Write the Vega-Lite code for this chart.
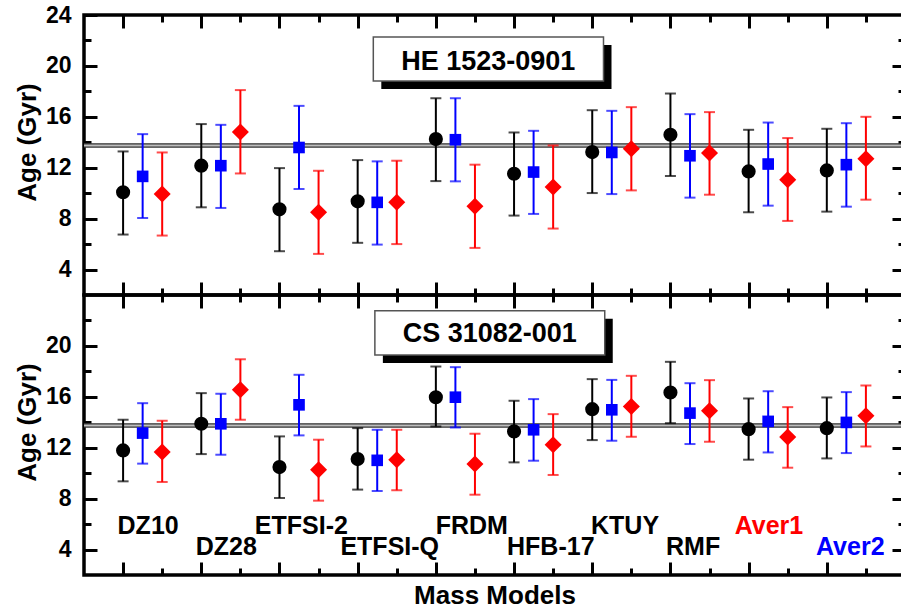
{
  "$schema": "https://vega.github.io/schema/vega-lite/v6.json",
  "padding": {"left": 12, "top": 2, "right": 0, "bottom": 0},
  "autosize": {"type": "pad"},
  "background": "white",
  "bounds": "flush",
  "spacing": 0,
  "config": {
    "view": {"stroke": "black", "strokeWidth": 3.5},
    "font": "Liberation Sans",
    "axis": {
      "domain": false, "grid": false, "tickColor": "black", "tickWidth": 3,
      "labelFont": "Liberation Sans", "labelFontWeight": "bold", "labelFontSize": 23, "labelColor": "black",
      "titleFont": "Liberation Sans", "titleFontWeight": "bold", "titleFontSize": 26, "titleColor": "black"
    }
  },
  "datasets": {
    "ages": [
      {"star": "HE 1523-0901", "model": "DZ10", "set": "S1", "pos": 1.0, "age": 10.07, "lo": 6.75, "hi": 13.28},
      {"star": "HE 1523-0901", "model": "DZ10", "set": "S2", "pos": 1.25, "age": 11.32, "lo": 8.05, "hi": 14.64},
      {"star": "HE 1523-0901", "model": "DZ10", "set": "S3", "pos": 1.5, "age": 9.93, "lo": 6.67, "hi": 13.2},
      {"star": "HE 1523-0901", "model": "DZ28", "set": "S1", "pos": 2.0, "age": 12.16, "lo": 8.89, "hi": 15.43},
      {"star": "HE 1523-0901", "model": "DZ28", "set": "S2", "pos": 2.25, "age": 12.16, "lo": 8.84, "hi": 15.37},
      {"star": "HE 1523-0901", "model": "DZ28", "set": "S3", "pos": 2.5, "age": 14.8, "lo": 11.55, "hi": 18.1},
      {"star": "HE 1523-0901", "model": "ETFSI-2", "set": "S1", "pos": 3.0, "age": 8.73, "lo": 5.44, "hi": 11.97},
      {"star": "HE 1523-0901", "model": "ETFSI-2", "set": "S2", "pos": 3.25, "age": 13.59, "lo": 10.33, "hi": 16.86},
      {"star": "HE 1523-0901", "model": "ETFSI-2", "set": "S3", "pos": 3.5, "age": 8.5, "lo": 5.23, "hi": 11.76},
      {"star": "HE 1523-0901", "model": "ETFSI-Q", "set": "S1", "pos": 4.0, "age": 9.36, "lo": 6.1, "hi": 12.6},
      {"star": "HE 1523-0901", "model": "ETFSI-Q", "set": "S2", "pos": 4.25, "age": 9.28, "lo": 5.96, "hi": 12.5},
      {"star": "HE 1523-0901", "model": "ETFSI-Q", "set": "S3", "pos": 4.5, "age": 9.28, "lo": 6.0, "hi": 12.55},
      {"star": "HE 1523-0901", "model": "FRDM", "set": "S1", "pos": 5.0, "age": 14.25, "lo": 10.95, "hi": 17.46},
      {"star": "HE 1523-0901", "model": "FRDM", "set": "S2", "pos": 5.25, "age": 14.2, "lo": 10.93, "hi": 17.46},
      {"star": "HE 1523-0901", "model": "FRDM", "set": "S3", "pos": 5.5, "age": 8.97, "lo": 5.7, "hi": 12.24},
      {"star": "HE 1523-0901", "model": "HFB-17", "set": "S1", "pos": 6.0, "age": 11.53, "lo": 8.24, "hi": 14.77},
      {"star": "HE 1523-0901", "model": "HFB-17", "set": "S2", "pos": 6.25, "age": 11.66, "lo": 8.37, "hi": 14.9},
      {"star": "HE 1523-0901", "model": "HFB-17", "set": "S3", "pos": 6.5, "age": 10.48, "lo": 7.22, "hi": 13.75},
      {"star": "HE 1523-0901", "model": "KTUY", "set": "S1", "pos": 7.0, "age": 13.23, "lo": 10.01, "hi": 16.52},
      {"star": "HE 1523-0901", "model": "KTUY", "set": "S2", "pos": 7.25, "age": 13.2, "lo": 9.93, "hi": 16.47},
      {"star": "HE 1523-0901", "model": "KTUY", "set": "S3", "pos": 7.5, "age": 13.49, "lo": 10.22, "hi": 16.76},
      {"star": "HE 1523-0901", "model": "RMF", "set": "S1", "pos": 8.0, "age": 14.59, "lo": 11.35, "hi": 17.83},
      {"star": "HE 1523-0901", "model": "RMF", "set": "S2", "pos": 8.25, "age": 12.94, "lo": 9.65, "hi": 16.21},
      {"star": "HE 1523-0901", "model": "RMF", "set": "S3", "pos": 8.5, "age": 13.15, "lo": 9.88, "hi": 16.37},
      {"star": "HE 1523-0901", "model": "Aver1", "set": "S1", "pos": 9.0, "age": 11.71, "lo": 8.5, "hi": 14.98},
      {"star": "HE 1523-0901", "model": "Aver1", "set": "S2", "pos": 9.25, "age": 12.29, "lo": 9.02, "hi": 15.55},
      {"star": "HE 1523-0901", "model": "Aver1", "set": "S3", "pos": 9.5, "age": 11.06, "lo": 7.82, "hi": 14.33},
      {"star": "HE 1523-0901", "model": "Aver2", "set": "S1", "pos": 10.0, "age": 11.79, "lo": 8.55, "hi": 15.06},
      {"star": "HE 1523-0901", "model": "Aver2", "set": "S2", "pos": 10.25, "age": 12.24, "lo": 8.94, "hi": 15.5},
      {"star": "HE 1523-0901", "model": "Aver2", "set": "S3", "pos": 10.5, "age": 12.71, "lo": 9.49, "hi": 16.0},
      {"star": "CS 31082-001", "model": "DZ10", "set": "S1", "pos": 1.0, "age": 11.79, "lo": 9.36, "hi": 14.2},
      {"star": "CS 31082-001", "model": "DZ10", "set": "S2", "pos": 1.25, "age": 13.15, "lo": 10.75, "hi": 15.5},
      {"star": "CS 31082-001", "model": "DZ10", "set": "S3", "pos": 1.5, "age": 11.66, "lo": 9.31, "hi": 14.12},
      {"star": "CS 31082-001", "model": "DZ28", "set": "S1", "pos": 2.0, "age": 13.88, "lo": 11.5, "hi": 16.29},
      {"star": "CS 31082-001", "model": "DZ28", "set": "S2", "pos": 2.25, "age": 13.88, "lo": 11.45, "hi": 16.24},
      {"star": "CS 31082-001", "model": "DZ28", "set": "S3", "pos": 2.5, "age": 16.55, "lo": 14.2, "hi": 18.95},
      {"star": "CS 31082-001", "model": "ETFSI-2", "set": "S1", "pos": 3.0, "age": 10.48, "lo": 8.05, "hi": 12.89},
      {"star": "CS 31082-001", "model": "ETFSI-2", "set": "S2", "pos": 3.25, "age": 15.37, "lo": 12.97, "hi": 17.73},
      {"star": "CS 31082-001", "model": "ETFSI-2", "set": "S3", "pos": 3.5, "age": 10.27, "lo": 7.84, "hi": 12.63},
      {"star": "CS 31082-001", "model": "ETFSI-Q", "set": "S1", "pos": 4.0, "age": 11.11, "lo": 8.71, "hi": 13.54},
      {"star": "CS 31082-001", "model": "ETFSI-Q", "set": "S2", "pos": 4.25, "age": 11.01, "lo": 8.6, "hi": 13.41},
      {"star": "CS 31082-001", "model": "ETFSI-Q", "set": "S3", "pos": 4.5, "age": 11.05, "lo": 8.66, "hi": 13.41},
      {"star": "CS 31082-001", "model": "FRDM", "set": "S1", "pos": 5.0, "age": 15.97, "lo": 13.67, "hi": 18.38},
      {"star": "CS 31082-001", "model": "FRDM", "set": "S2", "pos": 5.25, "age": 15.97, "lo": 13.59, "hi": 18.33},
      {"star": "CS 31082-001", "model": "FRDM", "set": "S3", "pos": 5.5, "age": 10.72, "lo": 8.31, "hi": 13.1},
      {"star": "CS 31082-001", "model": "HFB-17", "set": "S1", "pos": 6.0, "age": 13.28, "lo": 10.85, "hi": 15.69},
      {"star": "CS 31082-001", "model": "HFB-17", "set": "S2", "pos": 6.25, "age": 13.41, "lo": 10.98, "hi": 15.82},
      {"star": "CS 31082-001", "model": "HFB-17", "set": "S3", "pos": 6.5, "age": 12.24, "lo": 9.86, "hi": 14.64},
      {"star": "CS 31082-001", "model": "KTUY", "set": "S1", "pos": 7.0, "age": 15.03, "lo": 12.6, "hi": 17.39},
      {"star": "CS 31082-001", "model": "KTUY", "set": "S2", "pos": 7.25, "age": 14.98, "lo": 12.55, "hi": 17.33},
      {"star": "CS 31082-001", "model": "KTUY", "set": "S3", "pos": 7.5, "age": 15.24, "lo": 12.86, "hi": 17.65},
      {"star": "CS 31082-001", "model": "RMF", "set": "S1", "pos": 8.0, "age": 16.34, "lo": 13.93, "hi": 18.75},
      {"star": "CS 31082-001", "model": "RMF", "set": "S2", "pos": 8.25, "age": 14.72, "lo": 12.29, "hi": 17.07},
      {"star": "CS 31082-001", "model": "RMF", "set": "S3", "pos": 8.5, "age": 14.9, "lo": 12.47, "hi": 17.31},
      {"star": "CS 31082-001", "model": "Aver1", "set": "S1", "pos": 9.0, "age": 13.46, "lo": 11.06, "hi": 15.87},
      {"star": "CS 31082-001", "model": "Aver1", "set": "S2", "pos": 9.25, "age": 14.07, "lo": 11.63, "hi": 16.44},
      {"star": "CS 31082-001", "model": "Aver1", "set": "S3", "pos": 9.5, "age": 12.84, "lo": 10.43, "hi": 15.19},
      {"star": "CS 31082-001", "model": "Aver2", "set": "S1", "pos": 10.0, "age": 13.54, "lo": 11.16, "hi": 15.95},
      {"star": "CS 31082-001", "model": "Aver2", "set": "S2", "pos": 10.25, "age": 13.99, "lo": 11.58, "hi": 16.37},
      {"star": "CS 31082-001", "model": "Aver2", "set": "S3", "pos": 10.5, "age": 14.51, "lo": 12.1, "hi": 16.89}
    ],
    "band": [{"lo": 13.62, "hi": 13.88}],
    "boxes": [
      {"star": "HE 1523-0901", "x1": 4.2, "x2": 7.144, "y1": 22.27, "y2": 18.82, "tx": 5.67, "ty": 19.7},
      {"star": "CS 31082-001", "x1": 4.22, "x2": 7.16, "y1": 22.77, "y2": 19.29, "tx": 5.69, "ty": 20.3}
    ],
    "labels": [
      {"model": "DZ10", "lx": 1.32, "ly": 5.25},
      {"model": "DZ28", "lx": 2.32, "ly": 3.6},
      {"model": "ETFSI-2", "lx": 3.28, "ly": 5.25},
      {"model": "ETFSI-Q", "lx": 4.41, "ly": 3.6},
      {"model": "FRDM", "lx": 5.46, "ly": 5.25},
      {"model": "HFB-17", "lx": 6.47, "ly": 3.6},
      {"model": "KTUY", "lx": 7.42, "ly": 5.25},
      {"model": "RMF", "lx": 8.29, "ly": 3.6},
      {"model": "Aver1", "lx": 9.26, "ly": 5.25},
      {"model": "Aver2", "lx": 10.3, "ly": 3.6}
    ]
  },
  "vconcat": [
    {
      "width": 821, "height": 280,
      "layer": [
        {"data": {"name": "band"}, "mark": {"type": "rect", "color": "#bdbdbd"},
         "encoding": {"y": {"field": "lo", "type": "quantitative", "scale": {"domain": [2, 24], "nice": false, "zero": false}, "axis": null}, "y2": {"field": "hi"}}},
        {"data": {"name": "band"}, "mark": {"type": "rule", "color": "#333333", "strokeWidth": 1.3},
         "encoding": {"y": {"field": "lo", "type": "quantitative", "scale": {"domain": [2, 24], "nice": false, "zero": false}, "axis": null}}},
        {"data": {"name": "band"}, "mark": {"type": "rule", "color": "#333333", "strokeWidth": 1.3},
         "encoding": {"y": {"field": "hi", "type": "quantitative", "scale": {"domain": [2, 24], "nice": false, "zero": false}, "axis": null}}},
        {"data": {"name": "boxes"}, "transform": [{"filter": "datum.star === 'HE 1523-0901'"}],
         "mark": {"type": "rect", "color": "black", "xOffset": 8, "x2Offset": 8, "yOffset": 8, "y2Offset": 8},
         "encoding": {
           "x": {"field": "x1", "type": "quantitative", "scale": {"domain": [0.5, 11], "nice": false, "zero": false}, "axis": null}, "x2": {"field": "x2"},
           "y": {"field": "y1", "type": "quantitative", "scale": {"domain": [2, 24], "nice": false, "zero": false}, "axis": null}, "y2": {"field": "y2"}}},
        {"data": {"name": "boxes"}, "transform": [{"filter": "datum.star === 'HE 1523-0901'"}],
         "mark": {"type": "rect", "fill": "white", "stroke": "#555555", "strokeWidth": 1.5},
         "encoding": {
           "x": {"field": "x1", "type": "quantitative", "scale": {"domain": [0.5, 11], "nice": false, "zero": false},
                 "axis": {"orient": "top", "values": [1,1.5,2,2.5,3,3.5,4,4.5,5,5.5,6,6.5,7,7.5,8,8.5,9,9.5,10,10.5], "labels": false, "title": null,
                          "tickSize": {"condition": {"test": "datum.value % 1 === 0", "value": -13}, "value": -7}}},
           "x2": {"field": "x2"},
           "y": {"field": "y1", "type": "quantitative", "scale": {"domain": [2, 24], "nice": false, "zero": false},
                 "axis": {"orient": "right", "values": [4,6,8,10,12,14,16,18,20,22], "labels": false, "title": null,
                          "tickSize": {"condition": {"test": "datum.value % 4 === 0", "value": -13}, "value": -7}}},
           "y2": {"field": "y2"}}},
        {"data": {"name": "boxes"}, "transform": [{"filter": "datum.star === 'HE 1523-0901'"}],
         "mark": {"type": "text", "font": "Liberation Sans", "fontWeight": "bold", "fontSize": 27, "color": "black", "align": "center", "baseline": "alphabetic"},
         "encoding": {
           "x": {"field": "tx", "type": "quantitative", "scale": {"domain": [0.5, 11], "nice": false, "zero": false}, "axis": null},
           "y": {"field": "ty", "type": "quantitative", "scale": {"domain": [2, 24], "nice": false, "zero": false}, "axis": null},
           "text": {"field": "star"}}},
        {"data": {"name": "ages"}, "transform": [{"filter": "datum.star === 'HE 1523-0901'"}],
         "mark": {"type": "errorbar", "thickness": 2, "ticks": {"size": 11, "thickness": 2}},
         "encoding": {
           "x": {"field": "pos", "type": "quantitative", "scale": {"domain": [0.5, 11], "nice": false, "zero": false}, "axis": null},
           "y": {"field": "lo", "type": "quantitative", "scale": {"domain": [2, 24], "nice": false, "zero": false}, "axis": null},
           "y2": {"field": "hi"},
           "color": {"field": "set", "type": "nominal", "scale": {"domain": ["S1", "S2", "S3"], "range": ["#000000", "#0000ff", "#ff0000"]}, "legend": null}}},
        {"data": {"name": "ages"}, "transform": [{"filter": "datum.star === 'HE 1523-0901' && datum.set === 'S1'"}],
         "mark": {"type": "point", "shape": "circle", "filled": true, "opacity": 1, "size": 200, "color": "#000000"},
         "encoding": {
           "x": {"field": "pos", "type": "quantitative", "scale": {"domain": [0.5, 11], "nice": false, "zero": false},
                 "axis": {"orient": "bottom", "values": [1,1.5,2,2.5,3,3.5,4,4.5,5,5.5,6,6.5,7,7.5,8,8.5,9,9.5,10,10.5], "labels": false, "title": null,
                          "tickSize": {"condition": {"test": "datum.value % 1 === 0", "value": -13}, "value": -7}}},
           "y": {"field": "age", "type": "quantitative", "scale": {"domain": [2, 24], "nice": false, "zero": false},
                 "axis": {"orient": "left", "values": [4,6,8,10,12,14,16,18,20,22,24], "title": "Age (Gyr)", "titleY": 127, "titlePadding": 5,
                          "labelPadding": 26, "labelExpr": "datum.value % 4 === 0 ? datum.label : ''",
                          "tickSize": {"condition": {"test": "datum.value % 4 === 0", "value": -13}, "value": -7}}}}},
        {"data": {"name": "ages"}, "transform": [{"filter": "datum.star === 'HE 1523-0901' && datum.set === 'S2'"}],
         "mark": {"type": "point", "shape": "square", "filled": true, "opacity": 1, "size": 135, "color": "#0000ff"},
         "encoding": {
           "x": {"field": "pos", "type": "quantitative", "scale": {"domain": [0.5, 11], "nice": false, "zero": false}, "axis": null},
           "y": {"field": "age", "type": "quantitative", "scale": {"domain": [2, 24], "nice": false, "zero": false}, "axis": null}}},
        {"data": {"name": "ages"}, "transform": [{"filter": "datum.star === 'HE 1523-0901' && datum.set === 'S3'"}],
         "mark": {"type": "point", "shape": "diamond", "filled": true, "opacity": 1, "size": 290, "color": "#ff0000"},
         "encoding": {
           "x": {"field": "pos", "type": "quantitative", "scale": {"domain": [0.5, 11], "nice": false, "zero": false}, "axis": null},
           "y": {"field": "age", "type": "quantitative", "scale": {"domain": [2, 24], "nice": false, "zero": false}, "axis": null}}}
      ],
      "resolve": {"axis": {"x": "independent", "y": "independent"}}
    },
    {
      "width": 821, "height": 280,
      "layer": [
        {"data": {"name": "band"}, "mark": {"type": "rect", "color": "#bdbdbd"},
         "encoding": {"y": {"field": "lo", "type": "quantitative", "scale": {"domain": [2, 24], "nice": false, "zero": false}, "axis": null}, "y2": {"field": "hi"}}},
        {"data": {"name": "band"}, "mark": {"type": "rule", "color": "#333333", "strokeWidth": 1.3},
         "encoding": {"y": {"field": "lo", "type": "quantitative", "scale": {"domain": [2, 24], "nice": false, "zero": false}, "axis": null}}},
        {"data": {"name": "band"}, "mark": {"type": "rule", "color": "#333333", "strokeWidth": 1.3},
         "encoding": {"y": {"field": "hi", "type": "quantitative", "scale": {"domain": [2, 24], "nice": false, "zero": false}, "axis": null}}},
        {"data": {"name": "boxes"}, "transform": [{"filter": "datum.star === 'CS 31082-001'"}],
         "mark": {"type": "rect", "color": "black", "xOffset": 8, "x2Offset": 8, "yOffset": 8, "y2Offset": 8},
         "encoding": {
           "x": {"field": "x1", "type": "quantitative", "scale": {"domain": [0.5, 11], "nice": false, "zero": false}, "axis": null}, "x2": {"field": "x2"},
           "y": {"field": "y1", "type": "quantitative", "scale": {"domain": [2, 24], "nice": false, "zero": false}, "axis": null}, "y2": {"field": "y2"}}},
        {"data": {"name": "boxes"}, "transform": [{"filter": "datum.star === 'CS 31082-001'"}],
         "mark": {"type": "rect", "fill": "white", "stroke": "#555555", "strokeWidth": 1.5},
         "encoding": {
           "x": {"field": "x1", "type": "quantitative", "scale": {"domain": [0.5, 11], "nice": false, "zero": false},
                 "axis": {"orient": "top", "values": [1,1.5,2,2.5,3,3.5,4,4.5,5,5.5,6,6.5,7,7.5,8,8.5,9,9.5,10,10.5], "labels": false, "title": null,
                          "tickSize": {"condition": {"test": "datum.value % 1 === 0", "value": -13}, "value": -7}}},
           "x2": {"field": "x2"},
           "y": {"field": "y1", "type": "quantitative", "scale": {"domain": [2, 24], "nice": false, "zero": false},
                 "axis": {"orient": "right", "values": [4,6,8,10,12,14,16,18,20,22], "labels": false, "title": null,
                          "tickSize": {"condition": {"test": "datum.value % 4 === 0", "value": -13}, "value": -7}}},
           "y2": {"field": "y2"}}},
        {"data": {"name": "boxes"}, "transform": [{"filter": "datum.star === 'CS 31082-001'"}],
         "mark": {"type": "text", "font": "Liberation Sans", "fontWeight": "bold", "fontSize": 27, "color": "black", "align": "center", "baseline": "alphabetic"},
         "encoding": {
           "x": {"field": "tx", "type": "quantitative", "scale": {"domain": [0.5, 11], "nice": false, "zero": false}, "axis": null},
           "y": {"field": "ty", "type": "quantitative", "scale": {"domain": [2, 24], "nice": false, "zero": false}, "axis": null},
           "text": {"field": "star"}}},
        {"data": {"name": "labels"},
         "mark": {"type": "text", "font": "Liberation Sans", "fontWeight": "bold", "fontSize": 25, "align": "center", "baseline": "alphabetic"},
         "encoding": {
           "x": {"field": "lx", "type": "quantitative", "scale": {"domain": [0.5, 11], "nice": false, "zero": false}, "axis": null},
           "y": {"field": "ly", "type": "quantitative", "scale": {"domain": [2, 24], "nice": false, "zero": false}, "axis": null},
           "text": {"field": "model"},
           "color": {"condition": [{"test": "datum.model === 'Aver1'", "value": "#ff0000"}, {"test": "datum.model === 'Aver2'", "value": "#0000ff"}], "value": "#000000"}}},
        {"data": {"name": "ages"}, "transform": [{"filter": "datum.star === 'CS 31082-001'"}],
         "mark": {"type": "errorbar", "thickness": 2, "ticks": {"size": 11, "thickness": 2}},
         "encoding": {
           "x": {"field": "pos", "type": "quantitative", "scale": {"domain": [0.5, 11], "nice": false, "zero": false}, "axis": null},
           "y": {"field": "lo", "type": "quantitative", "scale": {"domain": [2, 24], "nice": false, "zero": false}, "axis": null},
           "y2": {"field": "hi"},
           "color": {"field": "set", "type": "nominal", "scale": {"domain": ["S1", "S2", "S3"], "range": ["#000000", "#0000ff", "#ff0000"]}, "legend": null}}},
        {"data": {"name": "ages"}, "transform": [{"filter": "datum.star === 'CS 31082-001' && datum.set === 'S1'"}],
         "mark": {"type": "point", "shape": "circle", "filled": true, "opacity": 1, "size": 200, "color": "#000000"},
         "encoding": {
           "x": {"field": "pos", "type": "quantitative", "scale": {"domain": [0.5, 11], "nice": false, "zero": false},
                 "axis": {"orient": "bottom", "values": [1,1.5,2,2.5,3,3.5,4,4.5,5,5.5,6,6.5,7,7.5,8,8.5,9,9.5,10,10.5], "labels": false, "title": "Mass Models", "titlePadding": 6,
                          "tickSize": {"condition": {"test": "datum.value % 1 === 0", "value": -13}, "value": -7}}},
           "y": {"field": "age", "type": "quantitative", "scale": {"domain": [2, 24], "nice": false, "zero": false},
                 "axis": {"orient": "left", "values": [4,6,8,10,12,14,16,18,20,22], "title": "Age (Gyr)", "titleY": 127, "titlePadding": 5,
                          "labelPadding": 26, "labelExpr": "datum.value % 4 === 0 ? datum.label : ''",
                          "tickSize": {"condition": {"test": "datum.value % 4 === 0", "value": -13}, "value": -7}}}}},
        {"data": {"name": "ages"}, "transform": [{"filter": "datum.star === 'CS 31082-001' && datum.set === 'S2'"}],
         "mark": {"type": "point", "shape": "square", "filled": true, "opacity": 1, "size": 135, "color": "#0000ff"},
         "encoding": {
           "x": {"field": "pos", "type": "quantitative", "scale": {"domain": [0.5, 11], "nice": false, "zero": false}, "axis": null},
           "y": {"field": "age", "type": "quantitative", "scale": {"domain": [2, 24], "nice": false, "zero": false}, "axis": null}}},
        {"data": {"name": "ages"}, "transform": [{"filter": "datum.star === 'CS 31082-001' && datum.set === 'S3'"}],
         "mark": {"type": "point", "shape": "diamond", "filled": true, "opacity": 1, "size": 290, "color": "#ff0000"},
         "encoding": {
           "x": {"field": "pos", "type": "quantitative", "scale": {"domain": [0.5, 11], "nice": false, "zero": false}, "axis": null},
           "y": {"field": "age", "type": "quantitative", "scale": {"domain": [2, 24], "nice": false, "zero": false}, "axis": null}}}
      ],
      "resolve": {"axis": {"x": "independent", "y": "independent"}}
    }
  ]
}
